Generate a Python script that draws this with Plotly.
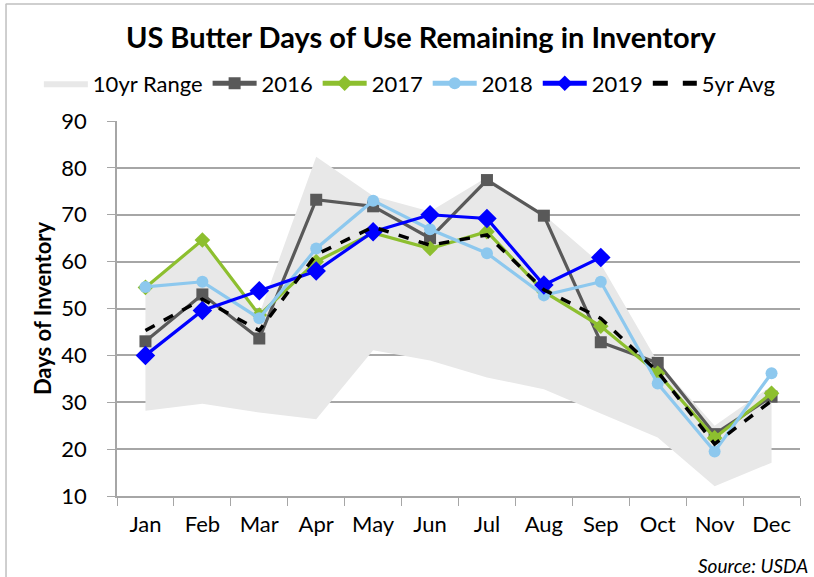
import plotly.graph_objects as go

months = ["Jan", "Feb", "Mar", "Apr", "May", "Jun", "Jul", "Aug", "Sep", "Oct", "Nov", "Dec"]
range_low = [28.2, 29.7, 27.8, 26.4, 41.1, 38.9, 35.3, 32.8, 27.6, 22.5, 12.1, 17.1]
range_high = [54.5, 64.6, 48.8, 82.4, 74.0, 70.7, 78.0, 70.0, 59.5, 38.6, 25.0, 33.5]
y2016 = [43.0, 53.0, 43.6, 73.2, 71.8, 65.0, 77.4, 69.8, 42.8, 38.4, 23.2, 31.2]
y2017 = [54.5, 64.6, 48.6, 60.0, 66.1, 62.8, 66.4, 53.6, 46.2, 36.2, 22.4, 31.9]
y2018 = [54.6, 55.7, 47.9, 62.8, 73.0, 66.9, 61.8, 52.8, 55.7, 34.0, 19.5, 36.2]
y2019 = [40.0, 49.6, 53.8, 58.0, 66.4, 70.0, 69.2, 55.0, 60.9]
avg5 = [45.3, 52.0, 45.3, 61.5, 67.4, 63.5, 65.7, 54.0, 47.9, 36.5, 21.1, 30.3]

FONT = "Lato"

fig = go.Figure()
fig.add_trace(go.Scatter(x=months, y=range_low, mode="lines", line=dict(width=0, color="#E8E8E8"),
                         showlegend=False, hoverinfo="skip"))
fig.add_trace(go.Scatter(x=months, y=range_high, mode="lines", line=dict(width=0, color="#E8E8E8"),
                         fill="tonexty", fillcolor="#E8E8E8", name="10yr Range"))
fig.add_trace(go.Scatter(x=months, y=y2016, mode="lines+markers", name="2016",
                         line=dict(color="#595959", width=3.2),
                         marker=dict(symbol="square", size=12, color="#595959")))
fig.add_trace(go.Scatter(x=months, y=y2017, mode="lines+markers", name="2017",
                         line=dict(color="#8DBF2F", width=3.2),
                         marker=dict(symbol="diamond", size=12, color="#8DBF2F")))
fig.add_trace(go.Scatter(x=months, y=y2018, mode="lines+markers", name="2018",
                         line=dict(color="#8DC8EE", width=3.2),
                         marker=dict(symbol="circle", size=12, color="#8DC8EE")))
fig.add_trace(go.Scatter(x=months[:len(y2019)], y=y2019, mode="lines+markers", name="2019",
                         line=dict(color="#0000FF", width=3.2),
                         marker=dict(symbol="diamond", size=15, color="#0000FF")))
fig.add_trace(go.Scatter(x=months, y=avg5, mode="lines", name="5yr Avg",
                         line=dict(color="#000000", width=3.5, dash="dash")))

fig.update_layout(
    width=814, height=577,
    paper_bgcolor="white", plot_bgcolor="white",
    margin=dict(l=117, r=14, t=121, b=81, autoexpand=False),
    font=dict(family=FONT, size=20, color="#000000"),
    title=dict(text="<b>US Butter Days of Use Remaining in Inventory</b>",
               x=0.517, xanchor="center", y=1 - 38 / 577, yanchor="middle",
               font=dict(family=FONT, size=29, color="#000000")),
    legend=dict(orientation="h", x=-0.1144, xanchor="left", y=1.1, yanchor="middle",
                font=dict(family=FONT, size=22), bgcolor="rgba(0,0,0,0)",
                itemwidth=44, tracegroupgap=0, itemsizing="constant", traceorder="normal"),
    showlegend=True,
)
fig.update_xaxes(type="category", categoryorder="array", categoryarray=months,
                 showline=True, linecolor="#A6A6A6", linewidth=1.5,
                 ticks="outside", tickson="boundaries", ticklen=8, tickcolor="#A6A6A6",
                 showgrid=False, tickfont=dict(family=FONT, size=22), range=[-0.5, 11.5],
                 ticklabelstandoff=8)
fig.update_yaxes(range=[10, 90], dtick=10, showline=True, linecolor="#A6A6A6", linewidth=1.5,
                 ticks="outside", ticklen=8, tickcolor="#A6A6A6",
                 showgrid=True, gridcolor="#A6A6A6", gridwidth=1.5, zeroline=False,
                 tickfont=dict(family=FONT, size=22), ticklabelstandoff=16,
                 title=dict(text="<b>Days of Inventory</b>", font=dict(family=FONT, size=22), standoff=4))

fig.add_annotation(text="<i>Source: USDA</i>", xref="paper", yref="paper", x=1.0146, y=-0.184,
                   xanchor="right", yanchor="middle", showarrow=False,
                   font=dict(family=FONT, size=19, color="#000000"))
fig.add_shape(type="line", xref="paper", yref="paper", x0=-0.163, x1=1.03, y0=1.312, y1=1.312,
              line=dict(color="#BFBFBF", width=1.5))
fig.add_shape(type="line", xref="paper", yref="paper", x0=-0.1625, x1=-0.1625, y0=1.312, y1=-0.25,
              line=dict(color="#BFBFBF", width=1.5))

fig.write_html("out.html", config={"displayModeBar": False},
               post_script="document.body.style.margin='0px';")
